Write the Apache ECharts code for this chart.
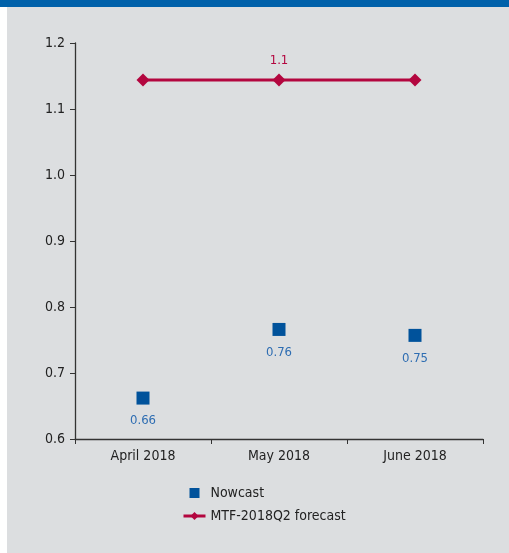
<!DOCTYPE html>
<html>
<head>
<meta charset="utf-8">
<script src="https://cdn.jsdelivr.net/npm/echarts@6/dist/echarts.min.js"></script>
<style>html,body{margin:0;padding:0;background:#fff}#c{width:509px;height:553px}</style>
</head>
<body>
<div id="c"></div>
<script>
var categories = ['April 2018', 'May 2018', 'June 2018'];
var nowcast = [0.662, 0.766, 0.757];
var nowcastLabels = ['0.66', '0.76', '0.75'];
var forecast = [1.144, 1.144, 1.144];
var forecastLabels = ['', '1.1', ''];
var yTicks = [0.6, 0.7, 0.8, 0.9, 1.0, 1.1, 1.2];

var FONT = "'DejaVu Sans Condensed', 'Liberation Sans Narrow', 'Liberation Sans', sans-serif";
var chart = echarts.init(document.getElementById('c'), null, {renderer: 'canvas'});
chart.setOption({
  animation: false,
  backgroundColor: '#ffffff',
  textStyle: {fontFamily: FONT},
  graphic: [
    {type: 'rect', z: -10, shape: {x: 0, y: 0, width: 509, height: 7}, style: {fill: '#0061aa'}},
    {type: 'rect', z: -10, shape: {x: 7, y: 7, width: 502, height: 546}, style: {fill: '#dcdee0'}}
  ],
  grid: {left: 75, right: 26, top: 43, bottom: 114, containLabel: false},
  xAxis: {
    type: 'category',
    data: categories,
    boundaryGap: true,
    axisLine: {lineStyle: {color: '#333', width: 1.3}},
    axisTick: {show: true, length: 5, lineStyle: {color: '#333'}},
    axisLabel: {color: '#222', fontSize: 14, fontFamily: FONT, margin: 10}
  },
  yAxis: {
    type: 'value',
    min: yTicks[0],
    max: yTicks[yTicks.length - 1],
    interval: 0.1,
    splitLine: {show: false},
    axisLine: {show: true, lineStyle: {color: '#333', width: 1.3}},
    axisTick: {show: true, length: 5, lineStyle: {color: '#333'}},
    axisLabel: {color: '#222', fontSize: 14, fontFamily: FONT, margin: 10,
      formatter: function (v) { return v.toFixed(1); }}
  },
  legend: {
    orient: 'vertical',
    left: 177,
    top: 481,
    itemGap: 9,
    itemWidth: 22,
    itemHeight: 10,
    textStyle: {color: '#222', fontSize: 14, fontFamily: FONT},
    data: [
      {name: 'Nowcast', icon: 'path://M0,0 L10,0 L10,10 L0,10 Z'},
      {name: 'MTF-2018Q2 forecast', lineStyle: {width: 3}}
    ]
  },
  series: [
    {
      name: 'Nowcast',
      type: 'scatter',
      data: nowcast,
      symbol: 'rect',
      symbolSize: 13,
      itemStyle: {color: '#00529b', opacity: 1},
      label: {
        show: true, position: 'bottom', distance: 10,
        color: '#2e6db2', fontSize: 13, fontFamily: FONT,
        formatter: function (p) { return nowcastLabels[p.dataIndex]; }
      }
    },
    {
      name: 'MTF-2018Q2 forecast',
      type: 'line',
      data: forecast,
      symbol: 'diamond',
      symbolSize: 13,
      lineStyle: {color: '#b3063f', width: 3},
      itemStyle: {color: '#b3063f'},
      label: {
        show: true, position: 'top', distance: 6,
        color: '#b3063f', fontSize: 13, fontFamily: FONT,
        formatter: function (p) { return forecastLabels[p.dataIndex]; }
      }
    }
  ]
});
</script>
</body>
</html>
